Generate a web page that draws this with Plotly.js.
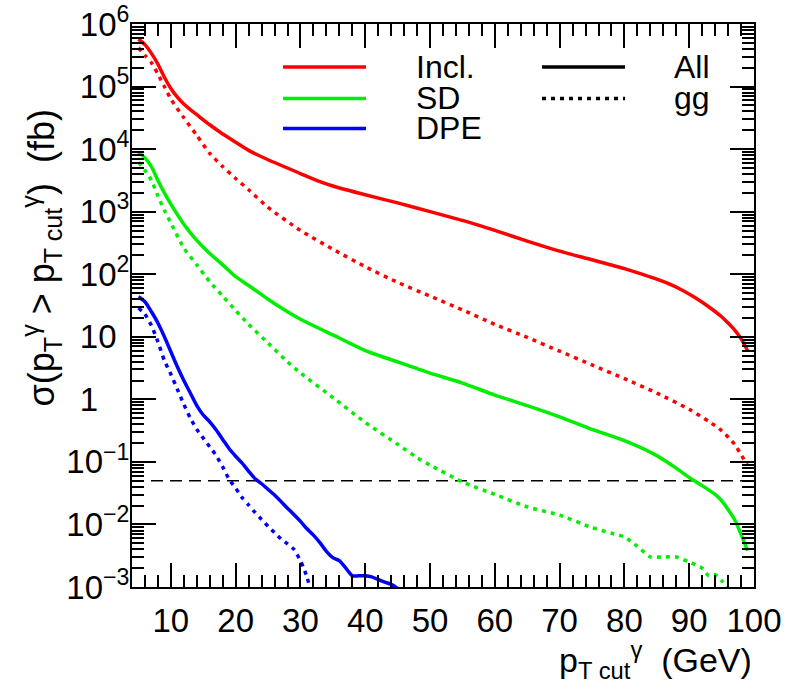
<!DOCTYPE html>
<html>
<head>
<meta charset="utf-8">
<script src="https://cdn.plot.ly/plotly-3.0.1.min.js"></script>
<style>html,body{margin:0;padding:0;background:#fff;}</style>
</head>
<body>
<div id="chart" style="width:792px;height:688px;"></div>
<script>
// ---- data (sigma in fb vs pT cut in GeV) ----
const inclAllX = [5,6,7,8,9,10,11,12,13,14,16,18,20,22,25,30,33,35,40,45,50,55,60,65,70,75,80,85,87,89,91,93,95,96,97,98,99];
const inclAllY = [5.75e5,4.68e5,3.39e5,2.29e5,1.41e5,9.33e4,6.76e4,5.25e4,4.27e4,3.55e4,2.45e4,1.74e4,1.29e4,9.55e3,6.76e3,4.07e3,3.02e3,2.57e3,1.86e3,1.38e3,1.0e3,724,501,339,234,170,123,83.2,69.2,55.0,41.7,30.2,20.9,16.6,12.9,9.33,6.03];

const inclGgX = [5,6,7,8,9,10,12,14,16,18,20,22,25,30,35,40,45,50,55,60,65,70,75,80,85,90,93,95,97,99];
const inclGgY = [4.17e5,3.16e5,2.40e5,1.58e5,1.0e5,6.31e4,3.16e4,1.66e4,8.51e3,5.25e3,3.39e3,2.24e3,1.17e3,501,251,132,74.1,44.7,26.9,15.8,9.77,5.89,3.55,2.14,1.26,0.692,0.447,0.316,0.191,0.0871];

const sdAllX = [5,6,7,8,9,10,12,14,16,18,20,22,25,28,30,35,40,45,50,55,60,65,70,75,80,85,88,90,92,94,95,97,99];
const sdAllY = [8.91e3,7.24e3,5.25e3,3.16e3,2.0e3,1.32e3,631,347,214,141,91.2,66.1,39.8,25.1,19.1,10.7,6.03,3.98,2.63,1.82,1.17,0.794,0.525,0.331,0.219,0.126,0.0794,0.0562,0.0417,0.0302,0.0240,0.0120,0.0038];

const sdGgX = [5,6,7,8,9,10,12,14,16,18,20,22,25,28,30,35,40,45,48,50,55,60,65,70,75,78,80,82,84,86,88,90,92,93,94,95,96];
const sdGgY = [6.17e3,4.57e3,3.16e3,1.78e3,1.05e3,661,263,141,75.9,44.7,26.3,15.8,7.94,3.98,2.63,1.07,0.427,0.191,0.117,0.0891,0.0479,0.0302,0.0191,0.0141,0.00891,0.00724,0.00631,0.00447,0.00302,0.00302,0.00302,0.00251,0.00200,0.00151,0.00158,0.00126,0.00089];

const dpeAllX = [5,6,7,8,9,10,11,12,13,14,15,16,17,18,19,20,21,22,23,24,25,26,28,30,31,32,33,34,35,36,37,38,39,40,41,42,43,44,45];
const dpeAllY = [43.7,36.3,25.1,16.6,10,5.75,3.31,2.0,1.26,0.794,0.562,0.437,0.324,0.229,0.162,0.123,0.0955,0.0708,0.0537,0.0447,0.0363,0.0295,0.0182,0.0112,0.00851,0.00676,0.00513,0.00372,0.00295,0.00263,0.00200,0.00151,0.00151,0.00151,0.00145,0.00132,0.00120,0.00110,0.00095];

const dpeGgX = [5,6,7,8,9,10,11,12,13,14,15,16,17,18,19,20,21,22,23,24,25,26,27,28,29,30,30.5,31,31.5];
const dpeGgY = [28.8,22.9,15.1,8.32,4.17,2.51,1.45,0.832,0.501,0.331,0.240,0.174,0.126,0.0832,0.0525,0.0380,0.0269,0.0204,0.0155,0.0120,0.00933,0.00741,0.00589,0.00490,0.00398,0.00263,0.00200,0.00145,0.00095];

const thresholdX = [4, 100];
const thresholdY = [0.05, 0.05];

const xTickVals = [10,20,30,40,50,60,70,80,90,100];
const xTickText = ['10','20','30','40','50','60','70','80','90','100'];
const T = '<span style="color:rgba(0,0,0,0)">';
const yTickVals = [1e-3,1e-2,1e-1,1,10,1e2,1e3,1e4,1e5,1e6];
const yTickText = ['10<sup>\u22123</sup>','10<sup>\u22122</sup>','10<sup>\u22121</sup>',
  '1'+T+'0</span><sup>'+T+'0</span></sup>',
  '10<sup>'+T+'0</span></sup>',
  '10<sup>2</sup>','10<sup>3</sup>','10<sup>4</sup>','10<sup>5</sup>','10<sup>6</sup>'];

const RED = '#ff0000', GREEN = '#00ee00', BLUE = '#0000ff';
const DOT = '4px,5px';
const LW = 3.5;
const FS = 33;

// minor log ticks (2..9 per decade)
const yMinor = [];
for (let e = -3; e < 6; e++) for (let m = 2; m <= 9; m++) yMinor.push(m * Math.pow(10, e));

function tr(x, y, color, dash) {
  return {x: x, y: y, type: 'scatter', mode: 'lines',
    line: {color: color, width: LW, dash: dash, shape: 'spline', smoothing: 0.6},
    hoverinfo: 'skip'};
}

const traces = [
  {x: thresholdX, y: thresholdY, type: 'scatter', mode: 'lines',
   line: {color: 'black', width: 1.5, dash: '12px,7px'}, hoverinfo: 'skip'},
  tr(inclGgX, inclGgY, RED, DOT),
  tr(sdGgX, sdGgY, GREEN, DOT),
  tr(dpeGgX, dpeGgY, BLUE, DOT),
  tr(inclAllX, inclAllY, RED, 'solid'),
  tr(sdAllX, sdAllY, GREEN, 'solid'),
  tr(dpeAllX, dpeAllY, BLUE, 'solid')
];

// legend geometry (paper coords)
const LFS = 32;
const legRows = [0.9236, 0.8677, 0.8144];
const legLabels = ['Incl.', 'SD', 'DPE'];
const legColors = [RED, GREEN, BLUE];
const shapes = [];
const annotations = [];
legRows.forEach((yy, i) => {
  shapes.push({type: 'line', xref: 'paper', yref: 'paper', x0: 0.2428, x1: 0.3762, y0: yy, y1: yy,
    line: {color: legColors[i], width: 3.5}});
  annotations.push({xref: 'paper', yref: 'paper', x: 0.4534, y: yy, xanchor: 'left', yanchor: 'middle',
    text: legLabels[i], showarrow: false, font: {size: LFS}});
});
const styleLabels = ['All', 'gg'];
const styleDash = ['solid', DOT];
[legRows[0], legRows[1]].forEach((yy, i) => {
  shapes.push({type: 'line', xref: 'paper', yref: 'paper', x0: 0.6592, x1: 0.7926, y0: yy, y1: yy,
    line: {color: 'black', width: 3.5, dash: styleDash[i]}});
  annotations.push({xref: 'paper', yref: 'paper', x: 0.8682, y: yy, xanchor: 'left', yanchor: 'middle',
    text: styleLabels[i], showarrow: false, font: {size: LFS}});
});

annotations.push({xref: 'paper', yref: 'paper', x: -0.145, y: 0.585, textangle: -90,
  xanchor: 'center', yanchor: 'middle', showarrow: false, font: {size: 36},
  text: '\u03c3(p<sub>T</sub><sup>\u03b3</sup> &gt; p<sub>T cut</sub><sup>\u03b3</sup>)&nbsp;&nbsp;(fb)'});
annotations.push({xref: 'paper', yref: 'paper', x: 1.0, y: -0.129, xanchor: 'right', yanchor: 'middle',
  showarrow: false, font: {size: 34},
  text: 'p<sub>T cut</sub><sup>\u03b3</sup>&nbsp;&nbsp;(GeV)'});

const layout = {
  width: 792, height: 688,
  margin: {l: 132, r: 38, t: 24, b: 101, pad: 0},
  paper_bgcolor: 'white', plot_bgcolor: 'white',
  showlegend: false,
  font: {family: 'Liberation Sans, Arial, sans-serif', color: 'black', size: FS},
  xaxis: {
    range: [4, 100], tickmode: 'array', tickvals: xTickVals, ticktext: xTickText,
    ticks: 'inside', ticklen: 24, tickwidth: 2, tickcolor: 'black',
    minor: {dtick: 2, tick0: 0, ticks: 'inside', ticklen: 12, tickwidth: 2, tickcolor: 'black'},
    showline: true, linewidth: 2, linecolor: 'black', mirror: 'ticks',
    showgrid: false, zeroline: false, tickfont: {size: FS}, ticklabelstandoff: 3
  },
  yaxis: {
    type: 'log', range: [-3, 6], tickmode: 'array', tickvals: yTickVals, ticktext: yTickText,
    ticks: 'inside', ticklen: 24, tickwidth: 2, tickcolor: 'black',
    minor: {tickmode: 'array', tickvals: yMinor, ticks: 'inside', ticklen: 12, tickwidth: 2, tickcolor: 'black'},
    showline: true, linewidth: 2, linecolor: 'black', mirror: 'ticks',
    showgrid: false, zeroline: false, tickfont: {size: FS}, ticklabelstandoff: -6
  },
  shapes: shapes,
  annotations: annotations
};

Plotly.newPlot('chart', traces, layout, {staticPlot: true, displayModeBar: false});
</script>
</body>
</html>
